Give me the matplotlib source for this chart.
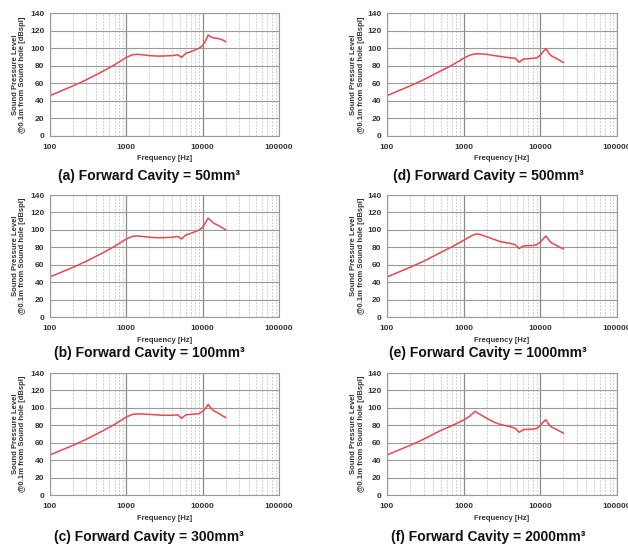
import numpy as np
import matplotlib
matplotlib.use('Agg')
import matplotlib.pyplot as plt
from matplotlib.ticker import FixedLocator, NullFormatter

plt.rcParams['font.family'] = ['Liberation Sans', 'DejaVu Sans']
plt.rcParams['font.weight'] = 'bold'

freq = [100, 200, 300, 500, 700, 1000, 1200, 1400, 1600, 2000, 2500, 3000, 4000,
        4700, 5300, 6000, 7000, 8000, 9000, 10000, 11000, 11800, 13000, 14000,
        16000, 18000, 20000]

spl_50 = [46, 57, 64, 74, 81, 89.5, 92.5, 93, 92.5, 91.5, 91, 91, 91.5,
          92.5, 89.5, 94, 96, 98, 100, 103, 109, 115, 112.5, 111.5,
          111, 109.5, 107.5]
spl_100 = [46, 57, 64, 74, 81, 89.5, 92.5, 93, 92.5, 91.5, 91, 91, 91.5,
           92.5, 89.5, 94, 96, 98, 100, 103, 109, 113.5, 110, 107.5,
           105, 102.5, 100]
spl_300 = [46, 57, 64, 74, 81, 89.5, 92.5, 93, 93, 92.5, 92, 91.5, 91.5,
           92, 88, 92, 92.5, 93, 93.5, 96, 100, 104, 99, 96.5,
           94, 91, 89]
spl_500 = [46, 57, 64, 74, 80.5, 88.5, 92, 93.5, 93.5, 93, 91.5, 90.5, 89,
           88.5, 84, 87.5, 88, 88.5, 89, 92, 96.5, 99.5, 94, 91,
           88.5, 86, 83.5]
spl_1000 = [46, 57, 64, 74, 80.5, 88, 92, 95, 95, 92, 89, 86.5, 84.5,
            83, 78.5, 81.5, 82, 82, 83, 86, 90, 93, 88, 85,
            82.5, 80, 78]
spl_2000 = [46, 57, 64, 74, 79.5, 86, 90.5, 96, 93, 88, 83.5, 81, 78.5,
            76.5, 72, 75, 75.5, 75.5, 76.5, 80, 84, 86.5, 80.5, 78,
            75.5, 73, 71]

captions = ['(a) Forward Cavity = 50mm³', '(b) Forward Cavity = 100mm³',
            '(c) Forward Cavity = 300mm³', '(d) Forward Cavity = 500mm³',
            '(e) Forward Cavity = 1000mm³', '(f) Forward Cavity = 2000mm³']
series = [spl_50, spl_100, spl_300, spl_500, spl_1000, spl_2000]

fig = plt.figure(figsize=(6.28, 5.49), dpi=100)
W, H = 628, 549

col_x = [(50, 229), (387, 230)]
row_y = [(13, 136), (195, 317), (373, 495)]
cap_x = [149, 488]
cap_y = [176, 353, 537]
ylab_off = [31, 29.5]

minor = [m * 10 ** e for e in range(2, 5) for m in range(2, 10)]

for i in range(6):
    c = i // 3
    r = i % 3
    x0, w = col_x[c]
    top, bot = row_y[r]
    ax = fig.add_axes([x0 / W, 1 - bot / H, w / W, (bot - top) / H])
    ax.plot(freq, series[i], color='#e8474f', lw=1.1)
    ax.set_xscale('log')
    ax.set_xlim(100, 100000)
    ax.set_ylim(0, 140)
    ax.set_yticks(np.arange(0, 141, 20))
    ax.xaxis.set_major_locator(FixedLocator([100, 1000, 10000, 100000]))
    ax.set_xticklabels(['100', '1000', '10000', '100000'])
    ax.xaxis.set_minor_locator(FixedLocator(minor))
    ax.xaxis.set_minor_formatter(NullFormatter())
    ax.grid(axis='y', color='#9a9a9a', lw=0.8)
    ax.grid(axis='x', which='major', color='#8a8a8a', lw=0.9)
    ax.grid(axis='x', which='minor', color='#c8c8c8', lw=0.6, ls=(0, (2.5, 1.5)))
    ax.tick_params(axis='both', which='both', length=0, labelsize=6,
                   labelcolor='#333333')
    ax.tick_params(axis='x', pad=6)
    ax.tick_params(axis='y', pad=4)
    for s in ax.spines.values():
        s.set_color('#9a9a9a')
        s.set_linewidth(0.8)
    ax.set_xlabel('Frequency [Hz]', fontsize=5.5, color='#333333',
                  fontweight='bold', labelpad=3)
    ax.text(-ylab_off[c] / w, 0.5,
            'Sound Pressure Level\n@0.1m from Sound hole [dBspl]',
            transform=ax.transAxes, rotation=90, ha='center', va='center',
            fontsize=5.5, color='#333333', fontweight='bold', linespacing=1.1)
    fig.text(cap_x[c] / W, 1 - cap_y[r] / H, captions[i], ha='center',
             va='center', fontsize=10, fontweight='bold', color='#111111')

fig.savefig('out.png', dpi=100)
